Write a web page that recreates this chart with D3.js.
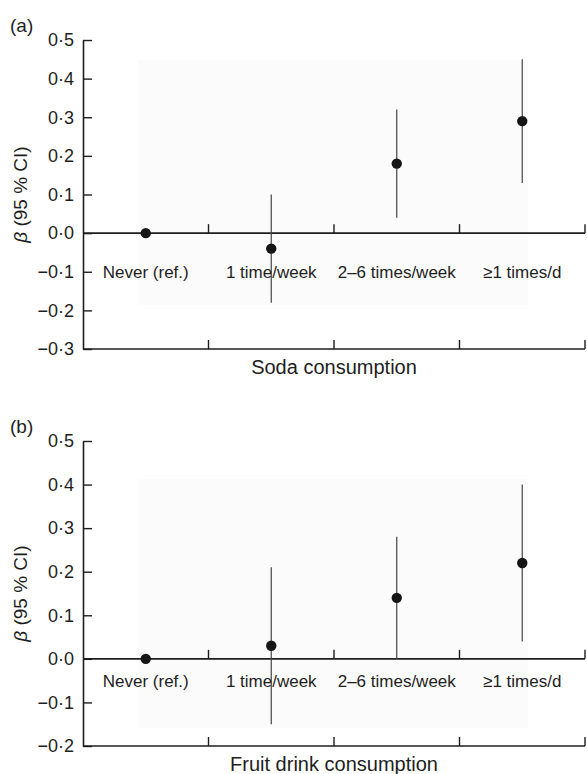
<!DOCTYPE html>
<html>
<head>
<meta charset="utf-8">
<script src="https://cdn.jsdelivr.net/npm/d3@7/dist/d3.min.js"></script>
<style>
  html, body { margin: 0; padding: 0; background: #fff; }
  svg { display: block; font-family: "Liberation Sans", Arial, Helvetica, sans-serif; }
</style>
</head>
<body>
<svg id="chart" width="587" height="774"></svg>
<script>
// ---- data ----
const categories = ["Never (ref.)", "1 time/week", "2\u20136 times/week", "\u22651 times/d"];

const sodaBeta  = [0.00, -0.04, 0.18, 0.29];
const sodaLow   = [null, -0.18, 0.04, 0.13];
const sodaHigh  = [null,  0.10, 0.32, 0.45];
const sodaTicks = [0.5, 0.4, 0.3, 0.2, 0.1, 0.0, -0.1, -0.2, -0.3];

const fruitBeta  = [0.00, 0.03, 0.14, 0.22];
const fruitLow   = [null, -0.15, 0.00, 0.04];
const fruitHigh  = [null,  0.21, 0.28, 0.40];
const fruitTicks = [0.5, 0.4, 0.3, 0.2, 0.1, 0.0, -0.1, -0.2];

const panels = [
  { tag: "(a)", title: "Soda consumption", beta: sodaBeta, low: sodaLow, high: sodaHigh,
    ticks: sodaTicks, top: 40, bottom: 349, labelY: -0.1, shade: [0.448, -0.186] },
  { tag: "(b)", title: "Fruit drink consumption", beta: fruitBeta, low: fruitLow, high: fruitHigh,
    ticks: fruitTicks, top: 441, bottom: 746, labelY: -0.05, shade: [0.413, -0.158] }
];

const svg = d3.select("#chart");
const left = 83, right = 585;
const ink = "#1e1e1e";
const fmt = d => d3.format(".1f")(d).replace(".", "\u00B7");

const x = d3.scaleBand().domain(categories).range([left, right]).padding(0);

panels.forEach(p => {
  const y = d3.scaleLinear()
    .domain([d3.min(p.ticks), d3.max(p.ticks)])
    .range([p.bottom, p.top]);
  const g = svg.append("g");

  // faint shaded background
  const sx0 = x(categories[0]) + x.bandwidth() * 0.44;
  const sx1 = x(categories[3]) + x.bandwidth() * 0.546;
  g.append("rect")
    .attr("x", sx0)
    .attr("width", sx1 - sx0)
    .attr("y", y(p.shade[0]))
    .attr("height", y(p.shade[1]) - y(p.shade[0]))
    .attr("fill", "#fbfbfb");

  // y axis
  const yAxis = d3.axisLeft(y).tickValues(p.ticks).tickFormat(fmt)
    .tickSizeInner(-9).tickSizeOuter(0).tickPadding(9);
  const ya = g.append("g").attr("transform", `translate(${left},0)`).call(yAxis);
  ya.select(".domain").attr("stroke", ink).attr("stroke-width", 1.6);
  ya.selectAll(".tick line").attr("stroke", ink).attr("stroke-width", 1.4);
  ya.selectAll(".tick text").attr("fill", ink).style("font-size", "18px");

  // horizontal lines: zero line and bottom axis
  [0, d3.min(p.ticks)].forEach(v => {
    g.append("line")
      .attr("x1", left).attr("x2", right)
      .attr("y1", y(v)).attr("y2", y(v))
      .attr("stroke", ink).attr("stroke-width", 1.6);
    g.selectAll(null).data(categories).enter().append("line")
      .attr("x1", d => x(d) + x.bandwidth()).attr("x2", d => x(d) + x.bandwidth())
      .attr("y1", y(v)).attr("y2", y(v) - 9)
      .attr("stroke", ink).attr("stroke-width", 1.4);
  });

  // category labels
  g.selectAll(null).data(categories).enter().append("text")
    .attr("x", d => x(d) + x.bandwidth() / 2)
    .attr("y", y(p.labelY))
    .attr("dy", "0.35em")
    .attr("text-anchor", "middle")
    .attr("fill", ink)
    .style("font-size", "17px")
    .text(d => d);

  // CI lines
  g.selectAll(null).data(categories.map((c, i) => ({ c, lo: p.low[i], hi: p.high[i] })).filter(d => d.lo !== null))
    .enter().append("line")
    .attr("x1", d => x(d.c) + x.bandwidth() / 2).attr("x2", d => x(d.c) + x.bandwidth() / 2)
    .attr("y1", d => y(d.lo)).attr("y2", d => y(d.hi))
    .attr("stroke", "#444").attr("stroke-width", 1.2);

  // points
  g.selectAll(null).data(categories.map((c, i) => ({ c, b: p.beta[i] })))
    .enter().append("circle")
    .attr("cx", d => x(d.c) + x.bandwidth() / 2)
    .attr("cy", d => y(d.b))
    .attr("r", 5.2)
    .attr("fill", "#151515");

  // x axis title
  g.append("text")
    .attr("x", (left + right) / 2)
    .attr("y", p.bottom + 18)
    .attr("dy", "0.35em")
    .attr("text-anchor", "middle")
    .attr("fill", ink)
    .style("font-size", "20px")
    .text(p.title);

  // y axis title
  const yt = g.append("text")
    .attr("transform", `translate(20,${(p.top + p.bottom) / 2}) rotate(-90)`)
    .attr("dy", "0.35em")
    .attr("text-anchor", "middle")
    .attr("fill", ink)
    .style("font-size", "19px");
  yt.append("tspan").style("font-style", "italic").text("\u03B2");
  yt.append("tspan").text(" (95 % CI)");

  // panel tag
  g.append("text")
    .attr("x", 10)
    .attr("y", p.top - 15)
    .attr("dy", "0.35em")
    .attr("fill", ink)
    .style("font-size", "19px")
    .text(p.tag);
});
</script>
</body>
</html>
